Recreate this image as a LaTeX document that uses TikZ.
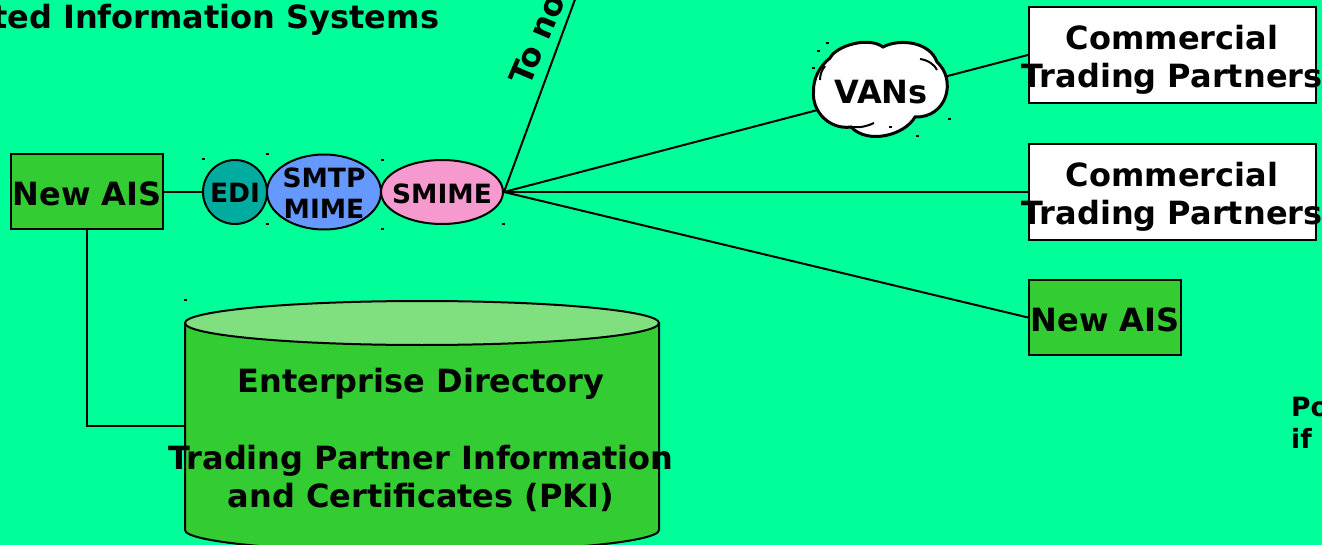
\documentclass[tikz,border=0pt]{standalone}
\usepackage{fontspec}
\setmainfont{DejaVu Sans}
\usetikzlibrary{shapes.geometric}
\definecolor{bgmint}{RGB}{0,255,153}
\definecolor{aisgreen}{RGB}{51,204,51}
\definecolor{topgreen}{RGB}{128,224,128}
\definecolor{editeal}{RGB}{0,172,160}
\definecolor{smtpblue}{RGB}{102,153,255}
\definecolor{smimepink}{RGB}{245,153,207}
\tikzset{
  link/.style={line width=2pt},
  bigtext/.style={font=\fontsize{32}{38.5}\selectfont\bfseries, align=center, inner sep=0pt},
  smalltext/.style={font=\fontsize{26.5}{31.5}\selectfont\bfseries, align=center, inner sep=0pt},
  aisbox/.style={draw, line width=2pt, fill=aisgreen, minimum width=152pt, minimum height=75pt, inner sep=0pt},
  partnerbox/.style={draw, line width=2pt, fill=white, minimum width=287pt, minimum height=96pt, inner sep=0pt},
  oval/.style={draw, ellipse, line width=2pt, inner sep=0pt},
  handle/.style={fill=black, minimum width=3pt, minimum height=2.5pt, inner sep=0pt}
}
\begin{document}
\begin{tikzpicture}[x=1pt, y=-1pt]
    \useasboundingbox (0, 0) rectangle (1322, 545);
    \clip (0, 0) rectangle (1322, 545);
    \fill [bgmint] (0, 0) rectangle (1322, 545);

    \node (ais) [aisbox] at (87, 192) {};
    \node (edi) [oval, fill=editeal, minimum width=64pt, minimum height=64pt] at (235, 192) {};
    \node (smtp) [oval, fill=smtpblue, minimum width=114pt, minimum height=75pt] at (324, 192) {};
    \node (smime) [oval, fill=smimepink, minimum width=122pt, minimum height=64pt] at (442, 192) {};
    \node (aistext) [bigtext] at (87, 194) {New AIS};
    \node (editext) [smalltext] at (235, 193) {EDI};
    \node (smtptext) [smalltext] at (324, 193) {SMTP\\MIME};
    \node (smimetext) [smalltext] at (442, 194) {SMIME};

    \node (partnera) [partnerbox] at (1172.5, 55) {};
    \node (partnerb) [partnerbox] at (1172.5, 192) {};
    \node (aisb) [aisbox] at (1105, 317.5) {};
    \node (partneratext) [bigtext] at (1172, 60) {Commercial\\Trading Partners};
    \node (partnerbtext) [bigtext] at (1172, 197) {Commercial\\Trading Partners};
    \node (aisbtext) [bigtext] at (1105, 319.5) {New AIS};

    % directory drum
    \draw [link, fill=aisgreen] (185, 323) -- (185, 530)
      arc [start angle=180, end angle=0, x radius=237, y radius=22] -- (659, 323) -- cycle;
    \draw [link, fill=topgreen] (422, 323) ellipse [x radius=237, y radius=22];
    \coordinate (directory) at (185, 426);
    \node (directorytext) [bigtext] at (421, 440) {Enterprise Directory\\[38.5pt]Trading Partner Information\\and Certificates (PKI)};

    \coordinate (up) at (577, -6);

    \draw [link] (ais) -- (edi);
    \draw [link] (ais.south) |- (directory);
    \draw [link] (smime.east) -- (up);
    \draw [link] (smime.east) -- (partnera.west);
    \draw [link] (smime.east) -- (partnerb.west);
    \draw [link] (smime.east) -- (aisb.west);

    % cloud sits on top of the first link
    \draw [link, line width=3pt, fill=white] (813.5, 92)
      .. controls (813, 78) and (820, 66) .. (830, 58)
      .. controls (836, 46) and (868, 36) .. (883, 47)
      .. controls (900, 38) and (930, 42) .. (937, 62)
      .. controls (957, 80) and (947, 118) .. (915, 117)
      .. controls (905, 135) and (868, 145) .. (851, 127)
      .. controls (830, 130) and (812, 112) .. (813.5, 92) -- cycle;
    \draw [link] (920, 59) .. controls (928, 60) and (935, 65) .. (937, 70);
    \draw [link] (852, 127) .. controls (860, 128) and (868, 126) .. (874, 123);
    \draw [link] (820, 80) .. controls (820, 74) and (822, 70) .. (825, 66);
    \node (vans) [bigtext] at (881, 92) {VANs};

    \node (title) [bigtext, anchor=base west] at (-8, 29) {ted Information Systems};
    \node (tono) [bigtext, rotate=67, anchor=base west] at (529, 88) {To no};
    \node (po) [smalltext, align=left, anchor=base west] at (1291, 448) {Po\\if};

    \foreach \x/\y in {203/159, 267/154, 267/224, 382/160, 382/229, 503/224, 185/300,
                       827/43, 818/51, 813/68, 949/119, 917/136, 890/127}
      \node [handle] at (\x, \y) {};
  \end{tikzpicture}
\end{document}
